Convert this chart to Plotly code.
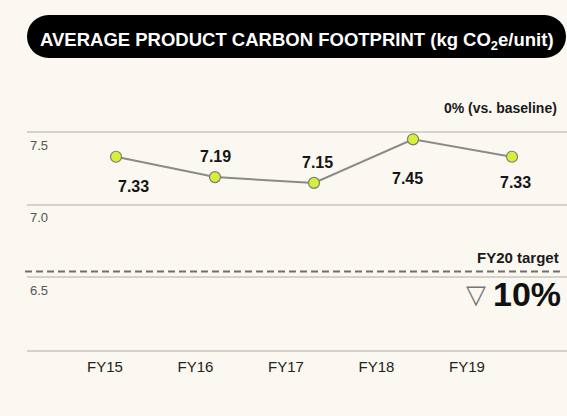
import plotly.graph_objects as go

# ---- data ----
years = ["FY15", "FY16", "FY17", "FY18", "FY19"]
footprint = [7.33, 7.19, 7.15, 7.45, 7.33]
value_labels = ["7.33", "7.19", "7.15", "7.45", "7.33"]
y_ticks = [6.5, 7.0, 7.5]
y_tick_labels = ["6.5", "7.0", "7.5"]
target_value = 6.54
title_text = "AVERAGE PRODUCT CARBON FOOTPRINT (kg CO<sub>2</sub>e/unit)"
baseline_text = "0% (vs. baseline)"
target_text = "FY20 target"
reduction_text = "10%"

W, H = 567, 416
ML, MR, MT, MB = 27, 0, 80, 66
PW, PH = W - ML - MR, H - MT - MB

BG = "#faf8f0"
GRID = "#d5d2cb"
FONT = "Liberation Sans, Arial, sans-serif"

def px_x(p):  # absolute pixel -> paper x
    return (p - ML) / PW

def px_y(p):  # absolute pixel -> paper y
    return (H - MB - p) / PH

fig = go.Figure()

# invisible trace to establish the label axis categories
fig.add_trace(go.Scatter(x=years, y=footprint, xaxis="x", yaxis="y",
                         mode="markers", marker=dict(opacity=0),
                         hoverinfo="skip", showlegend=False))

# the line with markers
fig.add_trace(go.Scatter(
    x=years, y=footprint, xaxis="x2", yaxis="y",
    mode="lines+markers",
    line=dict(color="#8a8a88", width=2),
    marker=dict(size=11, color="#d6f03a", line=dict(color="#7e7e76", width=1.2)),
    showlegend=False, hoverinfo="x+y"))

# value labels
shifts = [(17, -30), (0, 21), (3, 20), (-6, -39), (3, -26)]
for yr, v, t, (dx, dy) in zip(years, footprint, value_labels, shifts):
    fig.add_annotation(x=yr, y=v, xref="x2", yref="y", text=t, showarrow=False,
                       xshift=dx, yshift=dy,
                       font=dict(family=FONT, size=16, color="#151515", weight="bold"))

shapes = []
# title pill
y_top, y_bot = 15, 58
r = (y_bot - y_top) / 2
x_l, x_r = 27, 566
shapes.append(dict(type="rect", xref="paper", yref="paper",
                   x0=px_x(x_l + r), x1=px_x(x_r - r), y0=px_y(y_bot), y1=px_y(y_top),
                   fillcolor="#000000", line=dict(width=0), layer="above"))
for cx in (x_l + r, x_r - r):
    shapes.append(dict(type="circle", xref="paper", yref="paper",
                       x0=px_x(cx - r), x1=px_x(cx + r), y0=px_y(y_bot), y1=px_y(y_top),
                       fillcolor="#000000", line=dict(width=0), layer="above"))
# target dashed line
shapes.append(dict(type="line", xref="paper", yref="y",
                   x0=px_x(25), x1=px_x(563), y0=target_value, y1=target_value,
                   line=dict(color="#6e6e6c", width=2, dash="7px,4px")))

fig.update_layout(shapes=shapes)

fig.add_annotation(xref="paper", yref="paper", x=px_x(297), y=px_y(27),
                   text=title_text, showarrow=False,
                   font=dict(family=FONT, size=18.5, color="#ffffff", weight="bold"))
fig.add_annotation(xref="paper", yref="paper", x=px_x(559), y=px_y(98),
                   xanchor="right", text=baseline_text, showarrow=False,
                   font=dict(family=FONT, size=14, color="#1a1a1a", weight="bold"))
fig.add_annotation(xref="paper", yref="paper", x=px_x(561), y=px_y(257),
                   xanchor="right", text=target_text, showarrow=False,
                   font=dict(family=FONT, size=15, color="#1a1a1a", weight="bold"))
fig.add_annotation(xref="paper", yref="paper", x=px_x(563), y=px_y(315),
                   xanchor="right", text=reduction_text, showarrow=False,
                   font=dict(family=FONT, size=34, color="#111111", weight="bold"))
fig.add_annotation(xref="paper", yref="paper", x=px_x(488), y=px_y(311),
                   xanchor="right", text="▽", showarrow=False,
                   font=dict(family="DejaVu Sans, sans-serif", size=26, color="#777777"))

# axis ranges (pixel-calibrated)
lab_step, lab_first = 90.5, 105
pt_step, pt_first = 99, 116
x_range = [-(lab_first - ML) / lab_step, -(lab_first - ML) / lab_step + PW / lab_step]
x2_range = [-(pt_first - ML) / pt_step, -(pt_first - ML) / pt_step + PW / pt_step]
y_range = [6.0, 6.0 + PH / 145.3]

fig.update_layout(
    width=W, height=H,
    margin=dict(l=ML, r=MR, t=MT, b=MB),
    paper_bgcolor=BG, plot_bgcolor=BG,
    font=dict(family=FONT),
    xaxis=dict(type="category", categoryarray=years, range=x_range,
               showgrid=False, zeroline=False, showline=True, linecolor=GRID, linewidth=2,
               ticks="", ticklabelstandoff=2,
               tickfont=dict(family=FONT, size=15, color="#222222"),
               fixedrange=True),
    xaxis2=dict(type="category", categoryarray=years, range=x2_range, overlaying="x",
                visible=False, fixedrange=True),
    yaxis=dict(range=y_range, tickvals=y_ticks, ticktext=y_tick_labels,
               showgrid=True, gridcolor=GRID, gridwidth=2, zeroline=False, showline=False,
               ticks="", ticklabelposition="inside", ticklabelshift=13,
               tickfont=dict(family=FONT, size=13, color="#555555"), fixedrange=True),
    showlegend=False,
)

fig.write_html("out.html", config={"displayModeBar": False},
               post_script="document.body.style.margin='0';document.body.style.background='%s';" % BG)
